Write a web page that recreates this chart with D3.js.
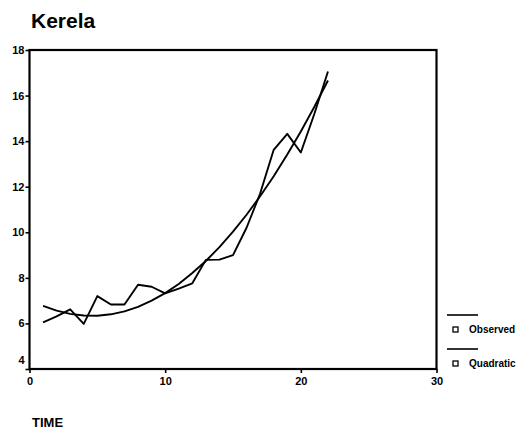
<!DOCTYPE html>
<html>
<head>
<meta charset="utf-8">
<script src="https://cdn.jsdelivr.net/npm/d3@7"></script>
<style>
  html, body { margin: 0; padding: 0; background: #fff; }
  svg { display: block; }
  text { font-family: "Liberation Sans", Arial, sans-serif; fill: #000; }
</style>
</head>
<body>
<svg id="chart" width="530" height="434"></svg>
<script>
// Kerala time series: observed values and the quadratic trend fitted to them
const time = d3.range(1, 23);
const observed = [6.05, 6.31, 6.62, 5.98, 7.20, 6.83, 6.83, 7.70, 7.61, 7.32, 7.53,
                  7.76, 8.79, 8.80, 9.00, 10.20, 11.70, 13.62, 14.32, 13.50, 15.20, 17.06];
const quadratic = [6.77, 6.56, 6.42, 6.35, 6.34, 6.40, 6.53, 6.73, 7.00, 7.33, 7.73,
                   8.21, 8.74, 9.35, 10.03, 10.77, 11.58, 12.46, 13.41, 14.42, 15.51, 16.66];
const xTicks = [0, 10, 20, 30];
const yTicks = [4, 6, 8, 10, 12, 14, 16, 18];
const legendItems = ["Observed", "Quadratic"];

const svg = d3.select("#chart");
const plot = { left: 29.5, right: 436.5, top: 50, bottom: 369 };

const x = d3.scaleLinear().domain([0, 30]).range([plot.left, plot.right]);
const y = d3.scaleLinear().domain([4, 18]).range([plot.bottom, plot.top]);

// Title
svg.append("text")
  .attr("x", 31).attr("y", 28)
  .attr("font-size", 21).attr("font-weight", "bold")
  .text("Kerela");

// Axes
const yAxis = svg.append("g")
  .attr("transform", `translate(${plot.left},0)`)
  .call(d3.axisLeft(y).tickValues(yTicks).tickSize(4).tickPadding(1).tickFormat(d3.format("d")));
const xAxis = svg.append("g")
  .attr("transform", `translate(0,${plot.bottom})`)
  .call(d3.axisBottom(x).tickValues(xTicks).tickSize(4).tickPadding(4).tickFormat(d3.format("d")));

[yAxis, xAxis].forEach(g => {
  g.select(".domain").remove();
  g.selectAll(".tick line").attr("stroke", "#000").attr("stroke-width", 1.6);
  g.selectAll(".tick text")
    .attr("font-family", "'Liberation Sans', Arial, sans-serif")
    .attr("font-size", 11).attr("font-weight", "bold").attr("fill", "#000");
});
// lowest value label sits just above the bottom axis
yAxis.selectAll(".tick").filter(d => d === 4).select("text").attr("dy", "-0.5em");

// Plot frame
svg.append("rect")
  .attr("x", plot.left).attr("y", plot.top)
  .attr("width", plot.right - plot.left).attr("height", plot.bottom - plot.top)
  .attr("fill", "none").attr("stroke", "#000").attr("stroke-width", 2.2);

// Series lines
const line = d3.line().x((d, i) => x(time[i])).y(d => y(d));
[observed, quadratic].forEach(series => {
  svg.append("path")
    .datum(series)
    .attr("d", line)
    .attr("fill", "none")
    .attr("stroke", "#000")
    .attr("stroke-width", 1.9)
    .attr("stroke-linejoin", "round");
});

// Legend
const legend = svg.append("g").attr("transform", "translate(447,315)");
legendItems.forEach((name, i) => {
  const g = legend.append("g").attr("transform", `translate(0,${i * 34})`);
  g.append("line").attr("x1", 0).attr("x2", 31).attr("y1", 0).attr("y2", 0)
    .attr("stroke", "#000").attr("stroke-width", 1.6);
  g.append("rect").attr("x", 6).attr("y", 12).attr("width", 5).attr("height", 5)
    .attr("fill", "none").attr("stroke", "#000").attr("stroke-width", 1.3);
  g.append("text").attr("x", 22).attr("y", 18)
    .attr("font-size", 10).attr("font-weight", "bold").text(name);
});

// X axis title
svg.append("text")
  .attr("x", 32).attr("y", 427)
  .attr("font-size", 13).attr("font-weight", "bold")
  .text("TIME");
</script>
</body>
</html>
